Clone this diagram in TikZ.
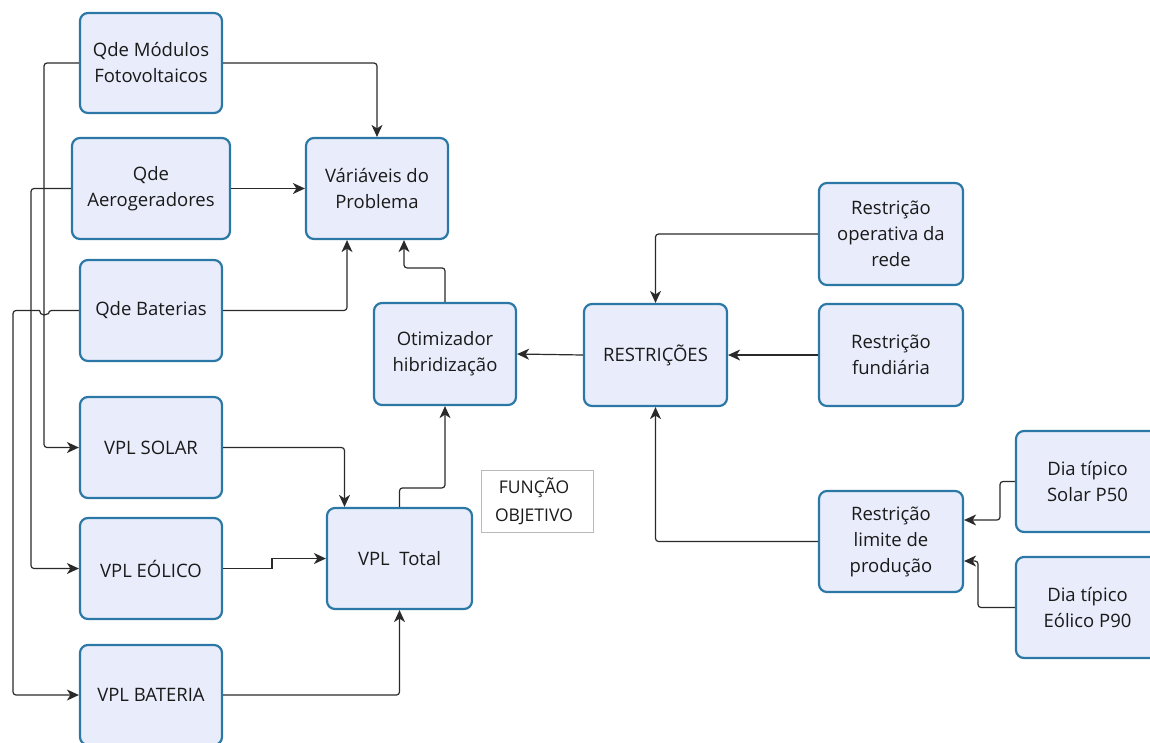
\documentclass[tikz,border=0pt]{standalone}
\usepackage{fontspec}
\setmainfont{Open Sans}
\usetikzlibrary{arrows.meta}
\definecolor{boxfill}{HTML}{E9EDFB}
\definecolor{boxline}{HTML}{2B78A6}
\definecolor{wire}{HTML}{2A2A2A}
\definecolor{ink}{HTML}{1A1A1A}
\begin{document}
\begin{tikzpicture}[x=1pt,y=-1pt,
  blk/.style={draw=boxline, line width=2.2pt, fill=boxfill, rounded corners=8pt,
    align=center, text=ink, inner sep=0pt,
    font=\fontsize{18.5}{26}\selectfont},
  std/.style={blk, minimum width=142pt, minimum height=101pt},
  link/.style={draw=wire, line width=1.2pt, rounded corners=3pt,
    -{Stealth[length=12pt,width=11pt,inset=3.5pt]}},
  note/.style={draw=gray!55, line width=0.8pt, fill=white, align=center,
    text=ink, inner sep=0pt, font=\fontsize{17.5}{28}\selectfont}]
\useasboundingbox (0,0) rectangle (1150,742);
\begin{scope}
\clip (0,0) rectangle (1150,742);

% decision variables
\node[std, minimum height=100pt] (mod) at (151,63) {Qde Módulos\\Fotovoltaicos};
\node[std, minimum width=158pt] (aero) at (151,188.5) {Qde\\Aerogeradores};
\node[std] (bat) at (151,310.5) {Qde Baterias};

% net present values
\node[std] (vsol) at (151,447.5) {VPL SOLAR};
\node[std] (veol) at (151,568.5) {VPL EÓLICO};
\node[std, minimum height=100pt] (vbat) at (151,695) {VPL BATERIA};

% core of the model
\node[std] (var) at (377,188.5) {Váriáveis do\\Problema};
\node[std, minimum height=102pt] (otim) at (445,354) {Otimizador\\hibridização};
\node[std, minimum width=145pt] (vtot) at (399.5,558.5) {VPL~~Total};
\node[note, minimum width=112pt, minimum height=62pt] (fobj) at (537,501) {};
\node[text=ink, align=center, inner sep=0pt, font=\fontsize{17.5}{28}\selectfont]
  at ([xshift=-3pt]fobj.center) {FUNÇÃO\\OBJETIVO};

% constraints
\node[std, minimum width=143pt, minimum height=102pt] (rest) at (655.5,355) {RESTRIÇÕES};
\node[std, minimum width=144pt, minimum height=102pt] (rop) at (891,234) {Restrição\\operativa da\\rede};
\node[std, minimum width=144pt, minimum height=102pt] (rfun) at (891,355) {Restrição\\fundiária};
\node[std, minimum width=144pt] (rlim) at (891,541.5) {Restrição\\limite de\\produção};
\node[std, minimum width=143pt] (dsol) at (1087.5,481.5) {Dia típico\\Solar P50};
\node[std, minimum width=143pt] (deol) at (1087.5,607.5) {Dia típico\\Eólico P90};

% variables feeding the problem
\draw[link] (mod.east) -| (var.north);
\draw[link] (aero.east) -- (var.west);
\draw[link] (bat.east) -| ([xshift=-30pt]var.south);
\draw[link] (otim.north) -- ++(0,-34) -| ([xshift=27pt]var.south);

% variables feeding the NPV blocks
\draw[link] (mod.west) -- (mod.west -| 44,0) |- (vsol.west);
\draw[link] (aero.west) -- (aero.west -| 31,0) |- (veol.west);
\draw[link] (bat.west) -- (bat.west -| 48.5,0) [sharp corners]
  arc[start angle=0, end angle=-180, radius=4.5pt] [rounded corners=3pt]
  -- (bat.west -| 13,0) |- (vbat.west);

% NPV aggregation
\draw[link] (vsol.east) -| ([xshift=-55pt]vtot.north);
\draw[link, sharp corners] (veol.east) -- (veol.east -| 272,0) |- (vtot.west);
\draw[link] (vbat.east) -| (vtot.south);
\draw[link] (vtot.north) -- ++(0,-19) -| (otim.south);

% constraints chain
\draw[link] (rest.west) -- (otim.east);
\draw[link] (rop.west) -| (rest.north);
\draw[link] (rfun.west) -- (rest.east);
\draw[link] (rlim.west) -| (rest.south);
\draw[link] (dsol.west) -- (dsol.west -| 1000,0) |- ([yshift=21.5pt]rlim.east);
\draw[link] (deol.west) -- (deol.west -| 978,0) |- ([yshift=-19.5pt]rlim.east);
\end{scope}
\end{tikzpicture}
\end{document}
